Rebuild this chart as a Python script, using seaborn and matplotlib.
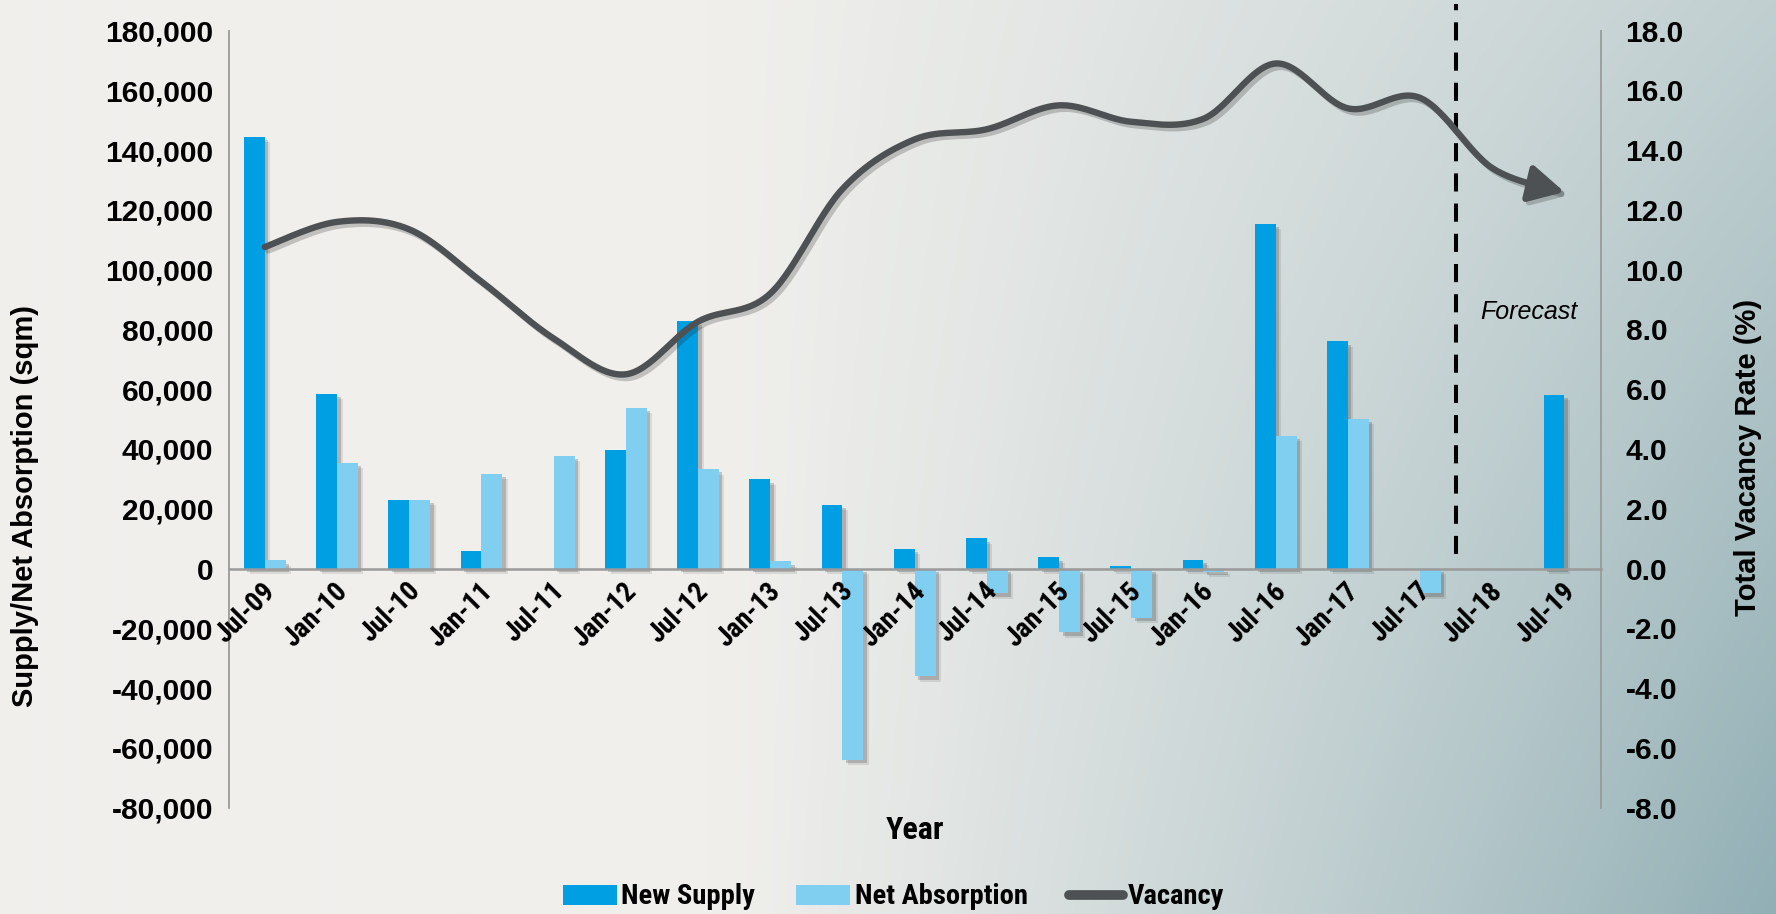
import numpy as np
import pandas as pd
import matplotlib
matplotlib.use("Agg")
import matplotlib.pyplot as plt
import seaborn as sns
from matplotlib import patheffects as pe
from matplotlib import font_manager as fm
from matplotlib.lines import Line2D
from matplotlib.patches import Patch
from matplotlib.ticker import FuncFormatter, MultipleLocator
from matplotlib.transforms import ScaledTranslation

# ---- data -------------------------------------------------------------
periods = ["Jul-09", "Jan-10", "Jul-10", "Jan-11", "Jul-11", "Jan-12", "Jul-12",
           "Jan-13", "Jul-13", "Jan-14", "Jul-14", "Jan-15", "Jul-15", "Jan-16",
           "Jul-16", "Jan-17", "Jul-17", "Jul-18", "Jul-19"]
new_supply = [144500, 58500, 23000, 5900, 0, 39500, 82800, 29800, 21300, 6600,
              10100, 3800, 800, 2900, 115400, 76000, 0, 0, 58200]
net_absorption = [2700, 35400, 23000, 31800, 37800, 53800, 33300, 2400, -64000,
                  -36000, -8200, -21300, -16500, -1100, 44400, 50100, -8200, 0, 0]
vacancy = [10.76, 11.6, 11.35, 9.6, 7.7, 6.5, 8.26, 9.2, 12.7, 14.36, 14.7,
           15.5, 14.95, 15.05, 16.9, 15.4, 15.75, 13.4, 12.6]
series_names = ["New Supply", "Net Absorption"]
forecast_after = "Jul-17"

# ---- styling ----------------------------------------------------------
SUPPLY_C = "#009FE3"
ABSORB_C = "#80CEF0"
VAC_C = "#4D5154"
AXIS_C = "#9A9A9A"
SANS = ["Liberation Sans", "DejaVu Sans"]

sns.set_theme(style="white")
plt.rcParams["font.family"] = SANS
for key in ("text.color", "axes.labelcolor", "xtick.color", "ytick.color"):
    plt.rcParams[key] = "black"


def condensed_bold(size_cond, size_regular):
    """A bold condensed face if one is installed, else regular bold, smaller."""
    wanted = ["Liberation Sans Narrow", "Roboto Condensed", "Open Sans Condensed",
              "Noto Sans Condensed", "DejaVu Sans Condensed", "Arial Narrow"]
    fonts = fm.fontManager.ttflist
    for name in wanted:
        for f in fonts:
            if f.name == name and f.style == "normal" and \
                    (f.weight == "bold" or (isinstance(f.weight, int) and f.weight >= 600)):
                return fm.FontProperties(fname=f.fname, size=size_cond)
    for f in fonts:
        if f.name in ("DejaVu Sans", "Noto Sans", "Open Sans", "Roboto") and \
                f.stretch in ("condensed", "semi-condensed") and f.style == "normal" and \
                (f.weight == "bold" or (isinstance(f.weight, int) and f.weight >= 600)):
            return fm.FontProperties(fname=f.fname, size=size_cond)
    return fm.FontProperties(family=SANS, weight="bold", size=size_regular)


tick_fp = condensed_bold(20, 17)
legend_fp = condensed_bold(20.5, 17)
year_fp = condensed_bold(23, 20)

W, H = 1776, 914
fig = plt.figure(figsize=(W / 100, H / 100), dpi=100)

# soft grey-to-teal backdrop
bg = fig.add_axes([0, 0, 1, 1], zorder=-10)
gu = np.linspace(0, 1, 888)[None, :]
gv = np.linspace(0, 1, 457)[:, None]
t = np.clip((gu - 0.4) / 0.6, 0, 1) ** 1.2 * (0.5 + 0.5 * gv)
light = np.array([240, 239, 236]) / 255
dark = np.array([145, 175, 181]) / 255
bg.imshow(light + (dark - light) * t[..., None], aspect="auto", extent=(0, 1, 0, 1))
bg.set_axis_off()

ax = fig.add_axes([0.1288, 0.1164, 0.9012 - 0.1288, 0.9665 - 0.1164])
ax.patch.set_alpha(0)

df = pd.DataFrame({
    "period": periods * 2,
    "series": [series_names[0]] * len(periods) + [series_names[1]] * len(periods),
    "value": new_supply + net_absorption,
})
sns.barplot(data=df, x="period", y="value", hue="series", order=periods,
            hue_order=series_names, palette=[SUPPLY_C, ABSORB_C], saturation=1,
            width=0.578, dodge=True, linewidth=0, legend=False, ax=ax)

shadow = [pe.SimplePatchShadow(offset=(2.5, -2.5), shadow_rgbFace="k", alpha=0.2),
          pe.SimplePatchShadow(offset=(4, -4), shadow_rgbFace="k", alpha=0.1),
          pe.Normal()]
for p in ax.patches:
    p.set_path_effects(shadow)
    p.set_zorder(1)

ax.set_axisbelow(False)
ax.xaxis.set_zorder(4)
ax.set_ylim(-80000, 180000)
ax.set_xlim(-0.5, len(periods) - 0.5)
ax.yaxis.set_major_locator(MultipleLocator(20000))
ax.yaxis.set_major_formatter(FuncFormatter(lambda v, _: f"{v:,.0f}"))
ax.set_xlabel("")
ax.set_ylabel("")

for s in ("top", "right"):
    ax.spines[s].set_visible(False)
ax.spines["left"].set_color(AXIS_C)
ax.spines["left"].set_linewidth(1.3)
ax.spines["bottom"].set_position(("data", 0))
ax.spines["bottom"].set_color(AXIS_C)
ax.spines["bottom"].set_linewidth(1.8)
ax.spines["bottom"].set_zorder(2)
ax.tick_params(axis="both", length=0)
ax.tick_params(axis="y", pad=11)
for lbl in ax.get_yticklabels():
    lbl.set_fontsize(21.5)
    lbl.set_fontweight("bold")

ax.set_xticks(range(len(periods)))
ax.set_xticklabels(periods)
offset = ScaledTranslation(-3 / 100, -4 / 100, fig.dpi_scale_trans)
for lbl in ax.get_xticklabels():
    lbl.set_fontproperties(tick_fp)
    lbl.set_rotation(45)
    lbl.set_ha("right")
    lbl.set_va("top")
    lbl.set_rotation_mode("anchor")
    lbl.set_transform(lbl.get_transform() + offset)

# forecast divider
fx = periods.index(forecast_after) + 0.5
ax.plot([fx, fx], [5000, 189000], color="black", lw=2.9, ls=(0, (4.5, 3)),
        clip_on=False, zorder=5)
ax.text(fx + 0.33, 85800, "Forecast", style="italic", fontsize=18,
        ha="left", va="center")

# ---- vacancy rate (right axis) ----------------------------------------
ax2 = ax.twinx()
ax2.set_ylim(-8, 18)
ax2.yaxis.set_major_locator(MultipleLocator(2))
ax2.yaxis.set_major_formatter(FuncFormatter(lambda v, _: f"{v:.1f}"))
for s in ("top", "left", "bottom"):
    ax2.spines[s].set_visible(False)
ax2.spines["right"].set_color(AXIS_C)
ax2.spines["right"].set_linewidth(1.3)
ax2.tick_params(axis="y", length=0, pad=18)
for lbl in ax2.get_yticklabels():
    lbl.set_fontsize(21.5)
    lbl.set_fontweight("bold")


def bezier_smooth(yv, n=30):
    """Smoothed path through the points, Excel-style (Catmull-Rom Bezier)."""
    pts = np.column_stack([np.arange(len(yv), dtype=float), np.asarray(yv, float)])
    ext = np.vstack([pts[0], pts, pts[-1]])
    out = []
    tt = np.linspace(0, 1, n)[:, None]
    for i in range(len(pts) - 1):
        p0, p1, p2, p3 = ext[i], ext[i + 1], ext[i + 2], ext[i + 3]
        c1 = p1 + (p2 - p0) / 6
        c2 = p2 - (p3 - p1) / 6
        seg = ((1 - tt) ** 3) * p1 + 3 * ((1 - tt) ** 2) * tt * c1 \
            + 3 * (1 - tt) * tt ** 2 * c2 + tt ** 3 * p2
        out.append(seg if i == 0 else seg[1:])
    return np.vstack(out)


curve = bezier_smooth(vacancy)
stop = curve[:, 0] <= len(periods) - 1 - 0.25
line_fx = [pe.SimpleLineShadow(offset=(2.5, -2.5), shadow_color="k", alpha=0.22),
           pe.Normal()]
ax2.plot(curve[stop, 0], curve[stop, 1], color=VAC_C, lw=4.6,
         solid_capstyle="round", path_effects=line_fx, zorder=6)
ax2.annotate("", xy=tuple(curve[-1]), xytext=tuple(curve[stop][-4]),
             arrowprops=dict(arrowstyle="-|>,head_length=0.85,head_width=0.45",
                             mutation_scale=25, color=VAC_C, lw=4.6,
                             shrinkA=0, shrinkB=0, path_effects=line_fx),
             zorder=7)

# ---- titles and legend -------------------------------------------------
fig.text(25 / W, 1 - 506 / H, "Supply/Net Absorption (sqm)", rotation=90,
         ha="center", va="center", fontsize=21, fontweight="bold")
fig.text(1748 / W, 1 - 457 / H, "Total Vacancy Rate (%)", rotation=90,
         ha="center", va="center", fontsize=21, fontweight="bold")
fig.text(915 / W, 1 - 830 / H, "Year", ha="center", va="center",
         fontproperties=year_fp)

handles = [Patch(facecolor=SUPPLY_C, edgecolor="none"),
           Patch(facecolor=ABSORB_C, edgecolor="none"),
           Line2D([], [], color=VAC_C, lw=7, solid_capstyle="round")]
fig.legend(handles, ["New Supply", "Net Absorption", "Vacancy"], ncol=3,
           loc="center", bbox_to_anchor=(0.503, 1 - 897 / H), frameon=False,
           handlelength=1.9, handleheight=0.7, handletextpad=0.15,
           columnspacing=1.45, prop=legend_fp)

fig.savefig("out.png", dpi=100)
